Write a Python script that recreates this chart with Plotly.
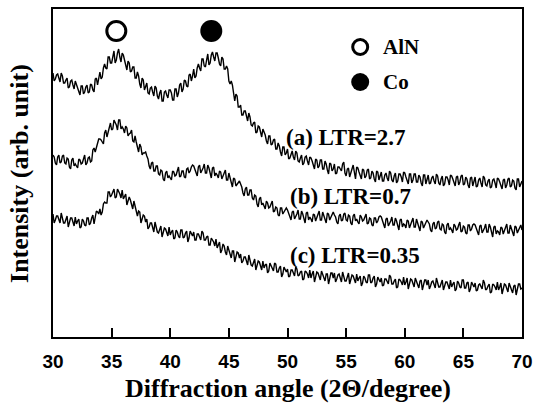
import numpy as np
import plotly.graph_objects as go

# 2-theta grid (degrees): readings every 0.1 degree from 30 to 70.
# Values are listed as two interleaved reading sets:
#   *_even : at 30.0, 30.2, ..., 70.0   (201 values)
#   *_odd  : at 30.1, 30.3, ..., 69.9   (200 values)
two_theta = np.round(np.arange(30.0, 70.0001, 0.1), 1)

# ---- (a) LTR = 2.7 ----
a_even = [
    264,258,263,255,261,254,259,250,257,248,
    253,245,251,243,250,244,253,247,258,252,
    265,260,273,268,280,274,286,277,288,275,
    282,271,276,265,270,259,265,253,259,247,
    254,243,250,241,249,238,247,236,246,239,
    247,237,248,240,252,245,257,251,262,256,
    268,261,273,266,278,270,283,274,285,276,
    284,273,280,268,271,256,256,243,243,230,
    232,222,226,216,220,211,215,205,210,200,
    205,196,201,192,197,188,194,185,190,182,
    188,179,186,177,184,175,182,174,181,172,
    179,171,178,169,177,168,176,167,174,166,
    173,164,170,166,175,161,169,165,172,158,
    169,160,168,159,167,158,166,158,166,157,
    165,156,164,156,164,155,164,156,163,155,
    164,155,163,154,163,155,162,154,162,153,
    162,154,161,153,161,152,161,153,160,152,
    161,153,160,152,161,152,160,152,159,151,
    160,151,159,150,159,151,158,150,158,149,
    158,150,157,149,158,150,157,149,158,150,
    156,
]
a_odd = [
    256,262,258,264,254,257,249,256,252,256,
    250,242,251,245,252,245,252,245,259,258,
    258,269,269,280,274,280,274,284,280,284,
    277,267,274,266,270,259,261,249,257,250,
    244,249,245,251,241,244,236,245,242,247,
    244,237,248,244,254,248,256,250,263,261,
    259,269,269,278,271,277,272,282,280,284,
    279,271,278,268,268,253,252,236,241,230,
    222,226,220,224,212,214,204,211,205,208,
    202,193,201,193,198,188,191,181,190,184,
    178,184,180,186,176,179,172,180,176,180,
    176,168,177,171,177,168,173,163,173,168,
    163,170,167,173,164,168,160,169,165,170,
    165,158,167,161,168,159,164,155,165,160,
    156,162,159,166,157,161,154,163,160,165,
    160,153,163,157,163,155,160,151,162,157,
    153,159,156,163,154,158,151,160,157,162,
    158,151,161,155,162,153,158,149,160,155,
    150,157,154,161,152,156,149,157,154,159,
    155,148,158,152,159,151,156,147,158,153,
]

# ---- (b) LTR = 0.7 ----
b_even = [
    182,174,180,174,181,174,179,170,177,171,
    171,178,173,178,172,179,175,187,185,195,
    198,195,204,200,208,207,217,212,217,208,
    208,211,201,204,196,201,190,193,182,184,
    181,171,174,166,171,163,167,158,164,159,
    159,166,161,166,160,166,160,168,164,170,
    171,165,170,164,169,164,172,164,169,161,
    162,166,158,163,157,164,155,159,151,154,
    153,144,148,142,147,139,142,133,138,132,
    131,136,129,133,125,130,122,129,123,128,
    127,121,125,118,123,118,126,119,124,117,
    118,123,116,122,117,125,118,124,117,122,
    122,115,121,116,123,117,122,114,121,116,
    115,122,116,120,113,119,112,119,114,120,
    120,113,118,111,116,112,119,112,117,110,
    112,117,109,115,110,118,110,116,109,114,
    115,107,113,108,115,108,113,105,112,107,
    107,113,107,112,105,111,104,112,106,112,
    112,106,111,104,109,105,113,105,110,103,
    105,110,103,109,104,112,105,111,104,109,
    107,
]
b_odd = [
    180,172,182,175,182,173,178,168,179,173,
    169,177,174,182,174,180,176,189,189,198,
    197,193,207,204,214,208,215,207,217,210,
    204,209,203,207,195,195,185,190,184,185,
    178,168,175,166,171,162,166,156,166,161,
    157,165,162,170,161,166,159,169,166,172,
    168,161,172,166,173,164,169,159,170,164,
    159,165,161,167,157,159,150,158,153,156,
    150,141,150,142,147,137,141,130,140,134,
    128,134,130,136,126,129,121,129,125,129,
    124,117,126,120,127,118,123,114,125,120,
    115,122,119,126,117,121,114,123,120,125,
    120,113,123,117,124,116,121,112,123,118,
    113,120,117,123,114,118,111,119,116,121,
    117,109,119,113,120,112,116,107,118,113,
    109,116,112,119,110,114,106,115,112,117,
    113,105,115,109,116,107,112,103,114,109,
    104,111,108,115,106,110,103,112,108,113,
    109,102,112,106,113,105,110,100,111,106,
    102,109,106,113,104,108,101,110,107,112,
]

# ---- (c) LTR = 0.35 ----
c_even = [
    123,117,121,114,118,114,121,114,119,111,
    113,118,110,116,111,119,114,122,118,125,
    128,125,135,134,145,142,148,140,146,139,
    138,143,135,137,128,131,121,125,117,121,
    118,110,114,105,109,104,111,104,108,101,
    102,107,99,105,99,107,100,106,99,104,
    105,97,103,97,104,97,101,92,97,91,
    89,95,87,91,82,87,79,86,79,84,
    83,76,80,72,76,71,78,71,75,67,
    69,73,66,71,66,73,65,71,63,68,
    68,61,67,61,68,62,66,58,65,59,
    59,66,60,64,57,63,56,63,58,64,
    64,58,63,55,60,56,64,57,61,54,
    56,61,54,59,54,62,55,61,53,58,
    59,52,58,53,60,53,58,50,57,52,
    52,59,52,57,50,56,49,57,51,57,
    57,51,56,49,54,50,57,50,55,48,
    50,55,48,54,49,57,49,55,48,53,
    54,47,53,48,54,48,53,45,52,47,
    47,54,48,52,45,51,44,52,47,53,
    49,
]
c_odd = [
    114,121,117,124,114,118,110,119,116,120,
    116,109,118,112,119,112,119,113,126,123,
    122,133,134,145,140,146,139,148,143,147,
    141,132,140,131,136,125,126,114,122,115,
    108,114,109,115,105,108,100,109,105,110,
    105,98,107,101,107,99,104,95,106,101,
    97,103,100,106,97,100,92,99,95,98,
    93,84,93,85,91,82,86,75,85,79,
    74,80,76,82,72,75,67,76,72,76,
    72,64,74,67,74,65,69,60,70,65,
    60,67,64,70,61,65,57,66,63,67,
    63,55,65,59,66,58,63,53,64,59,
    55,62,59,65,56,60,53,62,58,63,
    59,51,61,55,62,54,59,50,60,55,
    51,58,55,62,53,56,49,58,55,60,
    55,48,58,52,59,51,56,47,57,52,
    48,55,52,59,50,54,47,55,52,57,
    53,46,56,50,57,49,54,45,55,50,
    46,52,50,57,47,51,44,53,50,55,
    50,43,53,48,54,46,51,42,53,48,
]


def merge(even, odd):
    out = np.empty(len(even) + len(odd))
    out[0::2] = even
    out[1::2] = odd
    return out


series = [merge(a_even, a_odd), merge(b_even, b_odd), merge(c_even, c_odd)]
series_labels = ["(a) LTR=2.7", "(b) LTR=0.7", "(c) LTR=0.35"]
label_x = [49.7, 50.05, 50.05]
label_y = [200, 141, 82]

# phase peak markers above the patterns
peak_x_aln = [35.4]
peak_x_co = [43.5]
peak_y = [306]

# key
key_x = [56.2]
key_y_aln = [290]
key_y_co = [255]
key_text_x = 58.0
key_labels = ["AlN", "Co"]

x_ticks = [30, 35, 40, 45, 50, 55, 60, 65, 70]

serif = "Liberation Serif"
sans = "Liberation Sans"

fig = go.Figure()
for ys in series:
    fig.add_trace(go.Scatter(x=two_theta, y=ys, mode="lines",
                             line=dict(color="black", width=1.4),
                             showlegend=False, hoverinfo="skip"))

fig.add_trace(go.Scatter(x=peak_x_aln, y=peak_y, mode="markers",
                         marker=dict(symbol="circle-open", size=19, color="black",
                                     line=dict(width=3, color="black")),
                         showlegend=False, hoverinfo="skip"))
fig.add_trace(go.Scatter(x=peak_x_co, y=peak_y, mode="markers",
                         marker=dict(symbol="circle", size=22, color="black"),
                         showlegend=False, hoverinfo="skip"))
fig.add_trace(go.Scatter(x=key_x, y=key_y_aln, mode="markers",
                         marker=dict(symbol="circle-open", size=15, color="black",
                                     line=dict(width=3, color="black")),
                         showlegend=False, hoverinfo="skip"))
fig.add_trace(go.Scatter(x=key_x, y=key_y_co, mode="markers",
                         marker=dict(symbol="circle", size=18, color="black"),
                         showlegend=False, hoverinfo="skip"))

annotations = []
for t, yy in zip(key_labels, key_y_aln + key_y_co):
    annotations.append(dict(x=key_text_x, y=yy, xref="x", yref="y", text=t,
                            showarrow=False, xanchor="left", yanchor="middle",
                            font=dict(family=serif, size=21, color="black", weight="bold")))
for t, xx, yy in zip(series_labels, label_x, label_y):
    annotations.append(dict(x=xx, y=yy, xref="x", yref="y", text=t,
                            showarrow=False, xanchor="left", yanchor="middle",
                            font=dict(family=serif, size=23, color="black", weight="bold")))
annotations.append(dict(x=0.5, y=0, xref="paper", yref="paper",
                        text="Diffraction angle (2\u0398/degree)", showarrow=False,
                        xanchor="center", yanchor="middle", yshift=-51,
                        font=dict(family=serif, size=26, color="black", weight="bold")))
annotations.append(dict(x=0, y=0.497, xref="paper", yref="paper",
                        text="Intensity (arb. unit)", showarrow=False, textangle=-90,
                        xanchor="center", yanchor="middle", xshift=-33,
                        font=dict(family=serif, size=26, color="black", weight="bold")))

fig.update_layout(
    width=534, height=405,
    margin=dict(l=53, r=12, t=9, b=68),
    paper_bgcolor="white", plot_bgcolor="white",
    annotations=annotations,
    hovermode=False,
    xaxis=dict(range=[30, 70], tickvals=x_ticks, ticks="inside", ticklen=9,
               tickwidth=1.5, tickcolor="black", showgrid=False, zeroline=False,
               showline=True, linecolor="black", linewidth=2, mirror=True,
               automargin=False,
               tickfont=dict(family=sans, size=19, color="black", weight="bold"),
               ticklabelstandoff=6),
    yaxis=dict(range=[0, 328], showticklabels=False, ticks="", showgrid=False,
               zeroline=False, showline=True, linecolor="black", linewidth=2,
               mirror=True, automargin=False),
)

fig.write_html("out.html", config={"displayModeBar": False},
               post_script="document.body.style.margin='0';")
